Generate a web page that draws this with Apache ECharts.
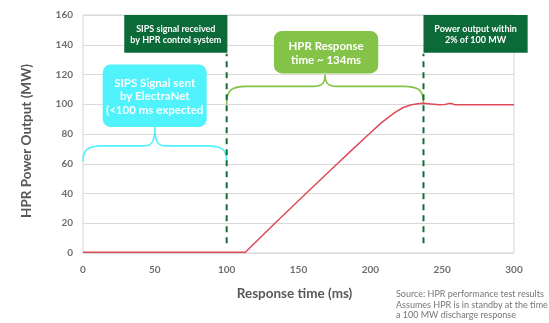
<!DOCTYPE html>
<html><head><meta charset="utf-8">
<script src="https://cdn.jsdelivr.net/npm/echarts@6/dist/echarts.min.js"></script>
<style>html,body{margin:0;padding:0;background:#fff}#c{width:549px;height:323px}</style>
</head><body><div id="c"></div>
<script>
// ---- data ----
const timeMs = [0, 113, 133.6, 155.2, 177, 188, 198, 207, 213, 218, 223, 228, 233, 237, 242, 248, 252, 255, 257, 259, 300];
const powerMW = [0.5, 0.5, 20, 40, 60, 70, 79, 87, 91.5, 95, 97.8, 99.5, 100.4, 100.6, 100.2, 99.6, 99.8, 100.6, 100.3, 99.6, 99.6];
const xTicks = [0, 50, 100, 150, 200, 250, 300];
const yTicks = [0, 20, 40, 60, 80, 100, 120, 140, 160];
const signalTimes = [100, 237];
const signalSpan = [6.5, 134];
// annotation boxes: [xStart, xEnd, yTop, yBottom]
const boxRanges = [[28.7, 100.5, 160, 134.7], [237, 309.5, 160, 134.7], [13.7, 86.1, 126.8, 84.7], [132.9, 205.5, 149.3, 120.7]];
const boxTexts = ['SIPS signal received\nby HPR control system', 'Power output within\n2% of 100 MW', 'SIPS Signal sent\nby ElectraNet\n(<100 ms expected', 'HPR Response\ntime ~ 134ms'];
// braces: [xStart, xEnd, yEnd, yFlat, yTip]
const braceRanges = [[0, 100, 61.5, 72, 85], [100, 237, 100, 112, 120]];

const boxColors = ['#0b6a38', '#0b6a38', '#50f3fc', '#84c347'];
const boxFonts = ['bold 9px Lato', 'bold 9px Lato', 'bold 11.5px Lato', 'bold 11.5px Lato'];
const boxLH = [11.5, 11.5, 13.5, 13.5];
const boxRadius = [0, 0, 8, 8];
const braceColors = ['#50f3fc', '#84c347'];

const chart = echarts.init(document.getElementById('c'), null, {renderer: 'canvas'});
const curve = timeMs.map((t, i) => [t, powerMW[i]]);

const series = [
  {
    type: 'line', data: curve, showSymbol: false, symbol: 'none', z: 3,
    lineStyle: {color: '#dd4b57', width: 1.5}
  }
];
signalTimes.forEach(t => {
  series.push({
    type: 'line', data: [[t, signalSpan[0]], [t, signalSpan[1]]], symbol: 'none', z: 4,
    lineStyle: {color: '#146b3a', width: 2, type: [6, 5]}
  });
});
series.push({
  type: 'custom', z: 2, clip: false,
  data: braceRanges,
  encode: {x: [0, 1], y: [2, 3, 4]},
  renderItem: function (params, api) {
    const i = params.dataIndex;
    const a = api.coord([api.value(0), api.value(2)]);
    const b = api.coord([api.value(1), api.value(2)]);
    const yF = api.coord([0, api.value(3)])[1];
    const yT = api.coord([0, api.value(4)])[1];
    const xm = (a[0] + b[0]) / 2;
    const r = 20, r2 = 12;
    const d = `M${a[0]},${a[1]} C${a[0]},${yF + 4} ${a[0] + 4},${yF} ${a[0] + r},${yF} L${xm - r2},${yF} C${xm - 3},${yF} ${xm},${yF - 3} ${xm},${yT} C${xm},${yF - 3} ${xm + 3},${yF} ${xm + r2},${yF} L${b[0] - r},${yF} C${b[0] - 4},${yF} ${b[0]},${yF + 4} ${b[0]},${b[1]}`;
    return {
      type: 'path', shape: {pathData: d},
      style: {fill: 'none', stroke: braceColors[i], lineWidth: 1.6}
    };
  }
});
series.push({
  type: 'custom', z: 5, clip: false,
  data: boxRanges,
  encode: {x: [0, 1], y: [2, 3]},
  renderItem: function (params, api) {
    const i = params.dataIndex;
    const p1 = api.coord([api.value(0), api.value(2)]);
    const p2 = api.coord([api.value(1), api.value(3)]);
    return {
      type: 'group', children: [
        {type: 'rect', shape: {x: p1[0], y: p1[1], width: p2[0] - p1[0], height: p2[1] - p1[1], r: boxRadius[i]},
          style: {fill: boxColors[i]}},
        {type: 'text', style: {text: boxTexts[i], x: (p1[0] + p2[0]) / 2, y: (p1[1] + p2[1]) / 2 + 1,
          align: 'center', verticalAlign: 'middle', fill: '#fff', font: boxFonts[i], lineHeight: boxLH[i]}}
      ]
    };
  }
});

chart.setOption({
  animation: false,
  grid: {left: 83, right: 35, top: 15, bottom: 70, show: true, borderColor: '#d6d6d6', borderWidth: 1},
  xAxis: {
    type: 'value', min: 0, max: 300, interval: 50,
    name: 'Response time (ms)', nameLocation: 'middle', nameGap: 34,
    nameTextStyle: {fontFamily: 'Lato', fontWeight: 'bold', fontSize: 13.5, color: '#585858', padding: [0, 8, 0, 0]},
    axisLine: {show: false}, axisTick: {show: false}, splitLine: {show: false},
    axisLabel: {margin: 12, fontFamily: 'Lato', fontWeight: 'bold', fontSize: 10, color: '#6e6e6e',
      formatter: v => xTicks.includes(v) ? String(v) : ''}
  },
  yAxis: {
    type: 'value', min: 0, max: 160, interval: 20,
    axisLine: {show: false}, axisTick: {show: false},
    splitLine: {lineStyle: {color: '#d9d9d9', width: 1}},
    axisLabel: {margin: 10, fontFamily: 'Lato', fontWeight: 'bold', fontSize: 10, color: '#6e6e6e',
      formatter: v => yTicks.includes(v) ? String(v) : ''}
  },
  graphic: [
    {type: 'text', x: 27, y: 141, rotation: Math.PI / 2,
      style: {text: 'HPR Power Output (MW)', align: 'center', verticalAlign: 'middle',
        font: 'bold 13.5px Lato', fill: '#585858'}},
    {type: 'text', left: 396, top: 289,
      style: {text: 'Source: HPR performance test results\nAssumes HPR is in standby at the time for\na 100 MW discharge response',
        font: '9px Lato', fill: '#777', lineHeight: 10.5}}
  ],
  series: series
});
</script></body></html>
